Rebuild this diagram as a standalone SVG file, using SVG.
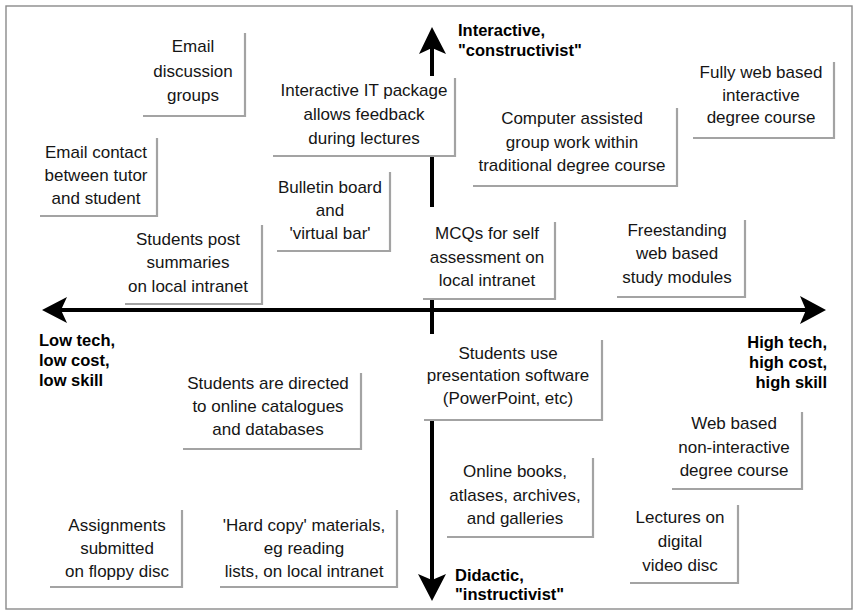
<svg xmlns="http://www.w3.org/2000/svg" width="857" height="614" viewBox="0 0 857 614">
<defs>
<style>
.t{font-family:"Liberation Sans",Arial,sans-serif;font-size:17px;fill:#151515;text-anchor:middle}
.lab{font-family:"Liberation Sans",Arial,sans-serif;font-size:16.5px;font-weight:bold;fill:#000}
.edge{fill:none;stroke:#a3a3a3;stroke-width:2.2}
.bg{fill:#fff}
.axis{stroke:#000;stroke-width:4;fill:none}
.head{fill:#000}
</style>
</defs>
<rect x="0" y="0" width="857" height="614" fill="#fff"/>
<rect x="6" y="6" width="846" height="603" fill="none" stroke="#8a8a8a" stroke-width="1.4"/>

<g id="connectors">
<line class="axis" x1="60" y1="310" x2="806" y2="310"/>
<polygon class="head" points="42,310 67,297 61,310 67,323"/>
<polygon class="head" points="826,310 800,296 806,310 800,324"/>
<line class="axis" x1="432" y1="48" x2="432" y2="582"/>
<polygon class="head" points="432,27 446,54 432,48 419,54"/>
<polygon class="head" points="432,601 446,574 432,580 418,574"/>
</g>

<g id="email-groups">
<polyline class="edge" points="245,33 245,116 143,116"/>
<text class="t"><tspan x="193" y="52">Email</tspan><tspan x="193" y="77">discussion</tspan><tspan x="193" y="101">groups</tspan></text>
</g>

<g id="email-contact">
<polyline class="edge" points="157,138 157,216 40,216"/>
<text class="t"><tspan x="96" y="158">Email contact</tspan><tspan x="96" y="181">between tutor</tspan><tspan x="96" y="204">and student</tspan></text>
</g>

<g id="it-package">
<rect class="bg" x="270" y="76" width="185" height="80"/>
<polyline class="edge" points="455,78 455,156 273,156"/>
<text class="t"><tspan x="364" y="96">Interactive IT package</tspan><tspan x="364" y="120">allows feedback</tspan><tspan x="364" y="144">during lectures</tspan></text>
</g>

<g id="bulletin-board">
<polyline class="edge" points="390,172 390,251 277,251"/>
<text class="t"><tspan x="330" y="193">Bulletin board</tspan><tspan x="330" y="216">and</tspan><tspan x="330" y="239">'virtual bar'</tspan></text>
</g>

<g id="students-post">
<polyline class="edge" points="262,225 262,304 125,304"/>
<text class="t"><tspan x="188" y="245">Students post</tspan><tspan x="188" y="268">summaries</tspan><tspan x="188" y="292">on local intranet</tspan></text>
</g>

<g id="mcqs">
<rect class="bg" x="420" y="207" width="135" height="92"/>
<polyline class="edge" points="555,222 555,299 423,299"/>
<text class="t"><tspan x="487" y="239">MCQs for self</tspan><tspan x="487" y="263">assessment on</tspan><tspan x="487" y="286">local intranet</tspan></text>
</g>

<g id="freestanding">
<polyline class="edge" points="745,220 745,297 617,297"/>
<text class="t"><tspan x="677" y="236">Freestanding</tspan><tspan x="677" y="259">web based</tspan><tspan x="677" y="283">study modules</tspan></text>
</g>

<g id="computer-assisted">
<polyline class="edge" points="677,108 677,186 473,186"/>
<text class="t"><tspan x="572" y="124">Computer assisted</tspan><tspan x="572" y="148">group work within</tspan><tspan x="572" y="171">traditional degree course</tspan></text>
</g>

<g id="fully-web">
<polyline class="edge" points="834,62 834,138 693,138"/>
<text class="t"><tspan x="761" y="78">Fully web based</tspan><tspan x="761" y="101">interactive</tspan><tspan x="761" y="123">degree course</tspan></text>
</g>

<g id="directed">
<polyline class="edge" points="361,373 361,449 183,449"/>
<text class="t"><tspan x="268" y="389">Students are directed</tspan><tspan x="268" y="412">to online catalogues</tspan><tspan x="268" y="435">and databases</tspan></text>
</g>

<g id="presentation">
<rect class="bg" x="420" y="334" width="182" height="86"/>
<polyline class="edge" points="602,340 602,420 424,420"/>
<text class="t"><tspan x="508" y="359">Students use</tspan><tspan x="508" y="381">presentation software</tspan><tspan x="508" y="404">(PowerPoint, etc)</tspan></text>
</g>

<g id="online-books">
<polyline class="edge" points="593,458 593,537 447,537"/>
<text class="t"><tspan x="515" y="477">Online books,</tspan><tspan x="515" y="501">atlases, archives,</tspan><tspan x="515" y="524">and galleries</tspan></text>
</g>

<g id="web-noninteractive">
<polyline class="edge" points="802,412 802,489 672,489"/>
<text class="t"><tspan x="734" y="429">Web based</tspan><tspan x="734" y="453">non-interactive</tspan><tspan x="734" y="476">degree course</tspan></text>
</g>

<g id="lectures-dvd">
<polyline class="edge" points="738,505 738,583 630,583"/>
<text class="t"><tspan x="680" y="523">Lectures on</tspan><tspan x="680" y="547">digital</tspan><tspan x="680" y="571">video disc</tspan></text>
</g>

<g id="assignments">
<polyline class="edge" points="182,510 182,587 50,587"/>
<text class="t"><tspan x="117" y="531">Assignments</tspan><tspan x="117" y="554">submitted</tspan><tspan x="117" y="577">on floppy disc</tspan></text>
</g>

<g id="hard-copy">
<polyline class="edge" points="397,510 397,587 220,587"/>
<text class="t"><tspan x="304" y="531">'Hard copy' materials,</tspan><tspan x="304" y="554">eg reading</tspan><tspan x="304" y="577">lists, on local intranet</tspan></text>
</g>

<g id="axis-labels">
<text class="lab"><tspan x="458" y="36">Interactive,</tspan><tspan x="458" y="56">"constructivist"</tspan></text>
<text class="lab"><tspan x="39" y="346">Low tech,</tspan><tspan x="39" y="366">low cost,</tspan><tspan x="39" y="386">low skill</tspan></text>
<text class="lab" text-anchor="end"><tspan x="827" y="348">High tech,</tspan><tspan x="827" y="368">high cost,</tspan><tspan x="827" y="388">high skill</tspan></text>
<text class="lab"><tspan x="455" y="581">Didactic,</tspan><tspan x="455" y="600">"instructivist"</tspan></text>
</g>
</svg>
